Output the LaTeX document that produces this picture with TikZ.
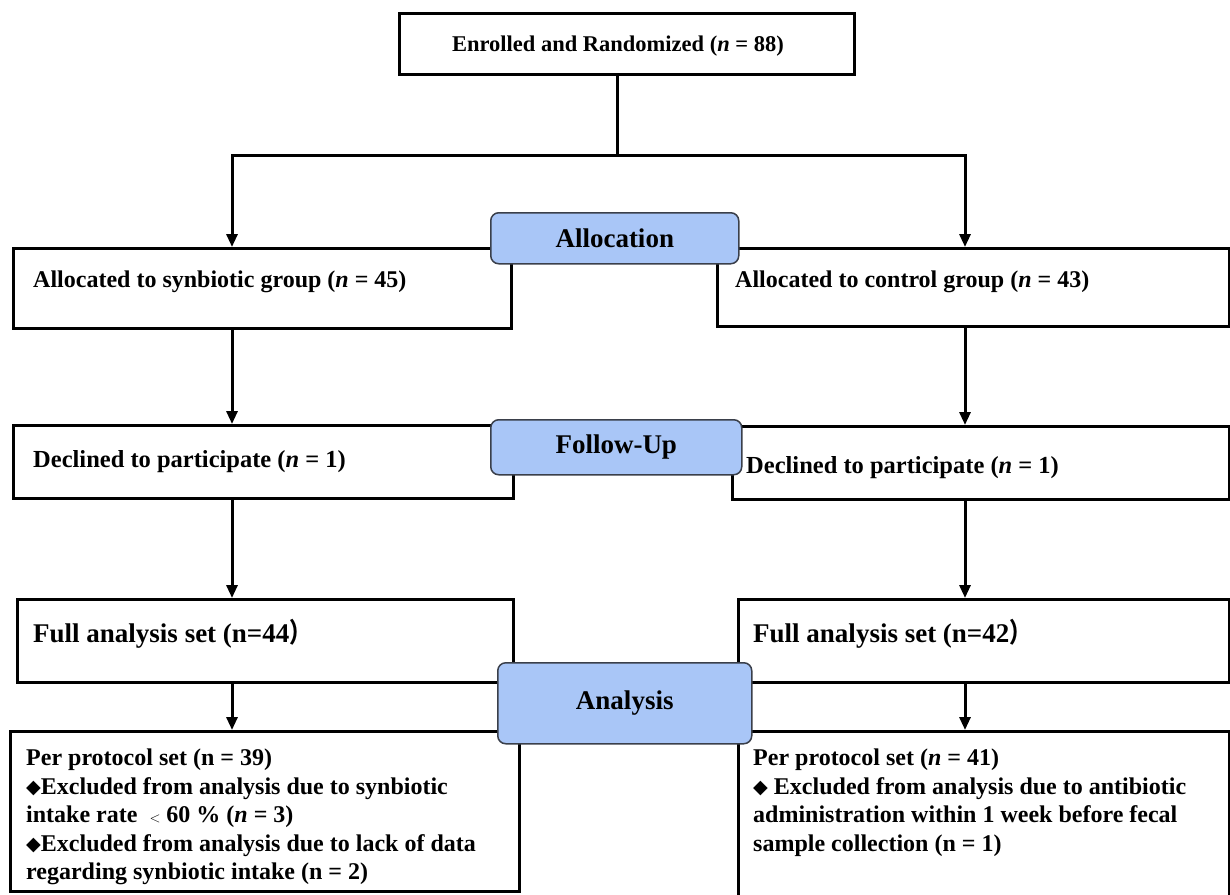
\documentclass[tikz,border=0pt]{standalone}
\usepackage{fontspec}
\usepackage{graphicx}
\setmainfont{Liberation Serif}
\newfontfamily\symfont{DejaVu Sans}
\newfontfamily\cjkfont{Noto Sans CJK SC}
\usetikzlibrary{arrows.meta}
\definecolor{stageblue}{HTML}{A9C6F7}
\definecolor{stageedge}{HTML}{3A3F4A}
\newcommand{\dmd}{{\symfont\raisebox{0.1ex}{\scalebox{0.8}{◆}}}}
\newcommand{\fpar}{{\cjkfont\scalebox{0.8}[1.0]{）}}}
\begin{document}
\begin{tikzpicture}[x=1pt,y=-1pt,
  frame/.style={draw=black, line width=3.4pt, fill=white, rectangle, inner sep=0pt, anchor=north west},
  stage/.style={draw=stageedge, line width=1.5pt, fill=stageblue, rounded corners=8pt, rectangle, inner sep=0pt, anchor=north west},
  txt/.style={inner sep=0pt, font=\fontsize{24}{28.5}\selectfont\bfseries},
  stagetxt/.style={inner sep=0pt, font=\fontsize{27}{30}\selectfont\bfseries},
  arr/.style={line width=3pt, -{Triangle[length=13pt,width=11pt]}},
  ln/.style={line width=3pt}]
\useasboundingbox (0,0) rectangle (1230,894);
% boxes
\node[frame, minimum width=455pt, minimum height=61pt] (top) at (398,12) {};
\node[frame, minimum width=498pt, minimum height=80pt] (a1) at (12,247) {};
\node[frame, minimum width=512pt, minimum height=78pt] (a2) at (716,247) {};
\node[frame, minimum width=500pt, minimum height=73pt] (f1) at (12,424) {};
\node[frame, minimum width=497pt, minimum height=73pt] (f2) at (731,425) {};
\node[frame, minimum width=496pt, minimum height=83pt] (s1) at (16,598) {};
\node[frame, minimum width=491pt, minimum height=83pt] (s2) at (737,598) {};
\node[frame, minimum width=509pt, minimum height=160pt] (p1) at (9,730) {};
\node[frame, minimum width=491pt, minimum height=175pt] (p2) at (737,730) {};
% columns
\coordinate (colL) at (232,0);
\coordinate (colR) at (965,0);
\coordinate (split) at (617,155);
% connectors
\draw[ln] (top.south -| split) -- (split);
\draw[ln, line cap=rect] (split -| colL) -- (split -| colR);
\draw[arr] (split -| colL) -- (a1.north -| colL);
\draw[arr] (split -| colR) -- (a2.north -| colR);
\draw[arr] (a1.south -| colL) -- (f1.north -| colL);
\draw[arr] (a2.south -| colR) -- (f2.north -| colR);
\draw[arr] (f1.south -| colL) -- (s1.north -| colL);
\draw[arr] (f2.south -| colR) -- (s2.north -| colR);
\draw[arr] (s1.south -| colL) -- (p1.north -| colL);
\draw[arr] (s2.south -| colR) -- (p2.north -| colR);
% texts
\node[txt, font=\fontsize{22.5}{27}\selectfont\bfseries, anchor=base] (ttop) at (618,51) {Enrolled and Randomized (\textit{n} = 88)};
\node[txt, anchor=base west] (ta1) at (33,287) {Allocated to synbiotic group (\textit{n} = 45)};
\node[txt, anchor=base west] (ta2) at (735,287) {Allocated to control group (\textit{n} = 43)};
\node[txt, font=\fontsize{24.5}{28}\selectfont\bfseries, anchor=base west] (tf1) at (33,467) {Declined to participate (\textit{n} = 1)};
\node[txt, font=\fontsize{24.5}{28}\selectfont\bfseries, anchor=base west] (tf2) at (746,473) {Declined to participate (\textit{n} = 1)};
\node[txt, font=\fontsize{27}{30}\selectfont\bfseries, anchor=base west] (ts1) at (33,642) {Full analysis set (n=44\fpar};
\node[txt, font=\fontsize{27}{30}\selectfont\bfseries, anchor=base west] (ts2) at (753,642) {Full analysis set (n=42\fpar};
\node[txt, anchor=north west, align=left] (tp1) at (26,749) {Per protocol set (n = 39)\\
\dmd Excluded from analysis due to synbiotic\\
intake rate \ {\fontsize{15}{15}\selectfont$<$} 60 \% (\textit{n} = 3)\\
\dmd Excluded from analysis due to lack of data\\
regarding synbiotic intake (n = 2)};
\node[txt, anchor=north west, align=left] (tp2) at (753,749) {Per protocol set (\textit{n} = 41)\\
\dmd\ Excluded from analysis due to antibiotic\\
administration within 1 week before fecal\\
sample collection (n = 1)};
% stage labels
\node[stage, minimum width=248pt, minimum height=51pt] (allo) at (490,212) {};
\node[stagetxt] (tallo) at (allo.center) {Allocation};
\node[stage, minimum width=251pt, minimum height=55pt] (fol) at (490,419) {};
\node[stagetxt] (tfol) at (fol.center) {Follow-Up};
\node[stage, minimum width=254pt, minimum height=81pt] (ana) at (497,662) {};
\node[stagetxt] (tana) at (ana.center) {Analysis};
\end{tikzpicture}
\end{document}
